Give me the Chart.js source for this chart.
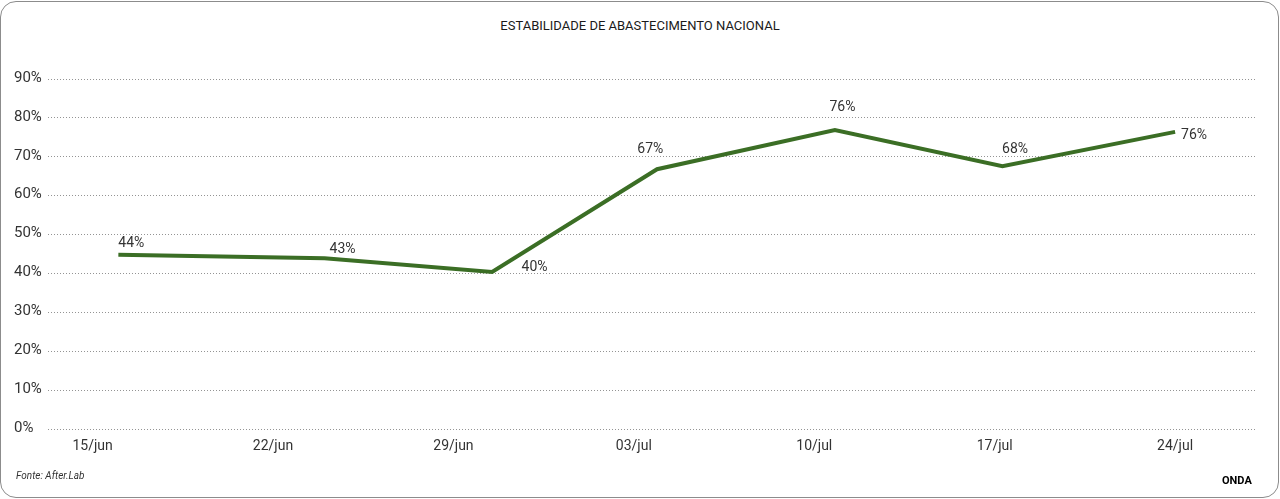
<!DOCTYPE html>
<html><head><meta charset="utf-8">
<script src="https://cdn.jsdelivr.net/npm/chart.js@4"></script>
<style>
html,body{margin:0;padding:0;background:#fff;}
#wrap{position:relative;width:1280px;height:499px;overflow:hidden;font-family:Roboto,sans-serif;}
#frame{position:absolute;left:0;top:1px;width:1279px;height:497px;box-sizing:border-box;border:1.5px solid #8c8c8c;border-radius:16px;}
#title{position:absolute;left:0;width:1280px;top:18px;text-align:center;font-size:13px;color:#1a1a1a;}
#src{position:absolute;left:16px;top:470px;font-size:10px;font-style:italic;color:#333;}
#brand{position:absolute;left:1222px;top:474px;font-size:11px;font-weight:700;color:#000;}
canvas{position:absolute;left:0;top:0;}
</style></head>
<body><div id="wrap"><div id="frame"></div><div id="title">ESTABILIDADE DE ABASTECIMENTO NACIONAL</div><canvas id="c" width="1280" height="499"></canvas><div id="src">Fonte: After.Lab</div><div id="brand">ONDA</div></div>
<script>
const tickLabels = ['15/jun','22/jun','29/jun','03/jul','10/jul','17/jul','24/jul'];
const tickDays = [0,7,14,21,28,35,42];
const pointDays = [1.0, 9.0, 15.5, 21.9, 28.8, 35.3, 42.0];
const values = [44.8, 43.9, 40.4, 66.8, 76.9, 67.6, 76.4];
const pointLabels = ['44%','43%','40%','67%','76%','68%','76%'];
const labelOffsets = [[13,-11],[18,-8.5],[42.5,-4.5],[-6.7,-20],[7.6,-22],[12.7,-17],[19,4]];

const labelPlugin = {
  id: 'pointLabels',
  afterDatasetsDraw(chart) {
    const ctx = chart.ctx;
    const meta = chart.getDatasetMeta(0);
    ctx.save();
    ctx.font = '14px Roboto';
    ctx.fillStyle = '#333';
    ctx.textAlign = 'center';
    ctx.textBaseline = 'middle';
    meta.data.forEach((p, i) => {
      ctx.fillText(pointLabels[i], p.x + labelOffsets[i][0], p.y + labelOffsets[i][1]);
    });
    ctx.restore();
  }
};

new Chart(document.getElementById('c'), {
  type: 'line',
  data: {
    datasets: [{
      data: pointDays.map((d, i) => ({x: d, y: values[i]})),
      borderColor: '#3b6e25',
      borderWidth: 4,
      pointRadius: 0,
      tension: 0,
      fill: false
    }]
  },
  options: {
    responsive: false,
    animation: false,
    layout: {padding: {left: 14, right: 25, top: 79, bottom: 40}},
    plugins: {legend: {display: false}, tooltip: {enabled: false}, title: {display: false}},
    scales: {
      x: {
        type: 'linear',
        min: -1.73,
        max: 45.1,
        grid: {display: false, drawTicks: false},
        border: {display: false},
        afterBuildTicks: (s) => { s.ticks = tickDays.map(v => ({value: v})); },
        afterFit: (s) => { s.height = 30; },
        ticks: {
          autoSkip: false, maxRotation: 0, padding: 9,
          font: {family: 'Roboto', size: 14}, color: '#333',
          callback: (v) => tickLabels[tickDays.indexOf(v)]
        }
      },
      y: {
        min: 0, max: 90,
        grid: {color: 'rgba(0,0,0,0.42)', lineWidth: 1, drawTicks: false},
        border: {display: false, dash: [1, 2]},
        afterFit: (s) => { s.width = 34; },
        ticks: {
          stepSize: 10, crossAlign: 'far', padding: 5, labelOffset: -1,
          font: {family: 'Roboto', size: 15}, color: '#333',
          callback: (v) => v + '%'
        }
      }
    }
  },
  plugins: [labelPlugin]
});
</script>
</body></html>
